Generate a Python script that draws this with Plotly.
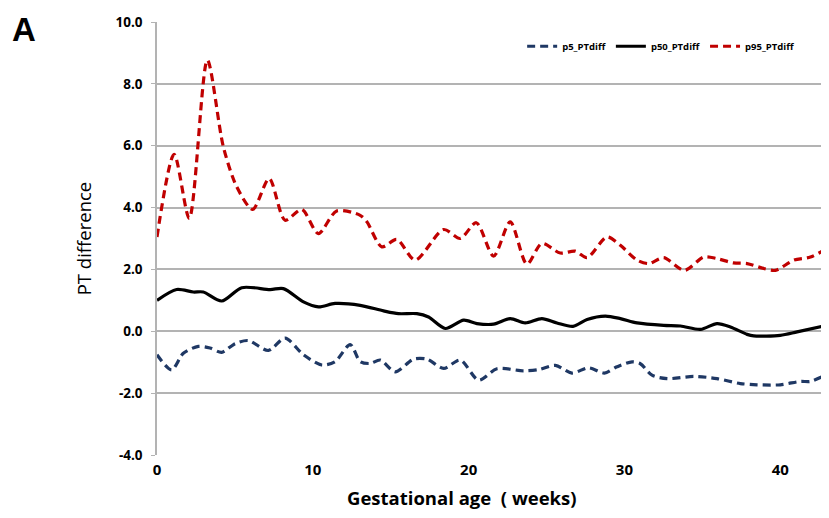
import plotly.graph_objects as go

# Data
p5_x = [0, 0.94, 1.69, 2.65, 3.4, 4.15, 5.01, 5.86, 7.15, 8.22, 9.4, 10.58, 11.43, 12.4, 13.04, 13.68,
        14.33, 15.29, 16.46, 17.32, 18.39, 19.46, 20.64, 21.82, 23.53, 24.5, 25.57, 26.63, 27.7, 28.71,
        29.52, 30.49, 31.02, 31.77, 32.74, 34.45, 35.94, 37.44, 38.51, 40.0, 41.3, 41.94, 43]
p5_y = [-0.76, -1.25, -0.71, -0.49, -0.54, -0.68, -0.40, -0.30, -0.62, -0.22, -0.76, -1.09, -0.98, -0.43,
        -0.98, -1.04, -0.93, -1.31, -0.90, -0.90, -1.20, -0.93, -1.58, -1.21, -1.28, -1.24, -1.10, -1.35,
        -1.18, -1.35, -1.15, -0.99, -1.05, -1.42, -1.53, -1.46, -1.53, -1.69, -1.73, -1.73, -1.62, -1.62, -1.39]

p50_x = [0, 1.26, 2.33, 2.97, 4.15, 5.44, 7.26, 8.11, 9.4, 10.36, 11.43, 13.04, 14.54, 15.5, 16.68, 17.43,
         18.5, 19.68, 20.53, 21.6, 22.67, 23.63, 24.7, 25.67, 26.7, 27.6, 28.77, 29.74, 30.81, 32.52, 33.6,
         34.88, 35.94, 36.8, 37.87, 38.3, 40.0, 41.08, 43]
p50_y = [1.0, 1.35, 1.27, 1.27, 0.98, 1.41, 1.35, 1.38, 0.95, 0.79, 0.90, 0.84, 0.66, 0.57, 0.57, 0.46,
         0.09, 0.36, 0.25, 0.23, 0.41, 0.27, 0.41, 0.27, 0.16, 0.38, 0.49, 0.41, 0.27, 0.19, 0.17,
         0.06, 0.25, 0.14, -0.10, -0.15, -0.13, -0.02, 0.19]

p95_x = [0, 1.1, 2.07, 3.23, 4.26, 5.12, 6.14, 7.2, 8.22, 9.29, 10.36, 11.53, 13.04, 13.47, 14.43, 15.39,
         16.57, 18.39, 19.46, 20.49, 21.6, 22.67, 23.74, 24.7, 25.88, 26.84, 27.6, 28.88, 29.74, 30.81,
         31.56, 32.52, 33.85, 35.09, 35.94, 37.0, 37.87, 38.94, 39.69, 40.87, 41.94, 43]
p95_y = [3.05, 5.72, 3.65, 8.77, 5.96, 4.67, 3.94, 4.94, 3.59, 3.94, 3.16, 3.89, 3.75, 3.54, 2.73, 2.97,
         2.30, 3.29, 3.0, 3.51, 2.43, 3.54, 2.17, 2.84, 2.53, 2.59, 2.38, 3.05, 2.78, 2.30,
         2.19, 2.38, 1.97, 2.40, 2.35, 2.21, 2.19, 2.03, 1.97, 2.30, 2.40, 2.68]

x_ticks = [0, 10, 20, 30, 40]
y_ticks = [-4, -2, 0, 2, 4, 6, 8, 10]
y_tick_labels = ["-4.0", "-2.0", "0.0", "2.0", "4.0", "6.0", "8.0", "10.0"]

FONT = "Open Sans"
GRID = "#b3b3b3"

fig = go.Figure()
fig.add_trace(go.Scatter(x=p5_x, y=p5_y, name="p5_PTdiff", mode="lines",
                         line=dict(color="#1f3864", width=3.2, dash="8px,5px", shape="spline", smoothing=0.8)))
fig.add_trace(go.Scatter(x=p50_x, y=p50_y, name="p50_PTdiff", mode="lines",
                         line=dict(color="#000000", width=3.2, shape="spline", smoothing=0.8)))
fig.add_trace(go.Scatter(x=p95_x, y=p95_y, name="p95_PTdiff", mode="lines",
                         line=dict(color="#c00000", width=3.2, dash="8px,5px", shape="spline", smoothing=0.8)))

# page body has an 8px margin, so the figure is sized to fit the 829x518 window
fig.update_layout(
    width=821, height=510,
    margin=dict(l=149, r=2, t=14, b=63),
    paper_bgcolor="white", plot_bgcolor="white",
    showlegend=True,
    legend=dict(orientation="h", x=0.545, y=0.944, xanchor="left", yanchor="middle",
                font=dict(family=FONT, size=9.5, color="#000000", weight="bold"),
                bgcolor="rgba(0,0,0,0)", itemwidth=30, tracegroupgap=0),
    xaxis=dict(range=[0, 43], tickvals=x_ticks, ticktext=[str(v) for v in x_ticks],
               showgrid=False, zeroline=False, showline=False, ticks="",
               tickfont=dict(family=FONT, size=15, color="#000000", weight="bold"),
               ticklabelstandoff=4),
    yaxis=dict(range=[-4, 10], tickvals=y_ticks, ticktext=y_tick_labels,
               showgrid=True, gridcolor=GRID, gridwidth=1.5, zeroline=False,
               showline=True, linecolor=GRID, linewidth=1.5,
               ticks="outside", ticklen=4, tickcolor=GRID,
               tickfont=dict(family=FONT, size=13.5, color="#000000", weight="bold"),
               ticklabelstandoff=6,
               title=dict(text="PT difference", standoff=19,
                          font=dict(family=FONT, size=18.5, color="#000000"))),
)

fig.add_annotation(text="Gestational age  ( weeks)", xref="paper", yref="paper",
                   x=0.455, y=-0.098, xanchor="center", yanchor="middle", showarrow=False,
                   font=dict(family=FONT, size=18.5, color="#000000", weight="bold"))

fig.add_annotation(text="A", xref="paper", yref="paper", x=-0.219, y=1.031,
                   xanchor="left", yanchor="top", showarrow=False,
                   font=dict(family="Liberation Sans", size=33, color="#000000", weight="bold"))

fig.write_html("out.html")
